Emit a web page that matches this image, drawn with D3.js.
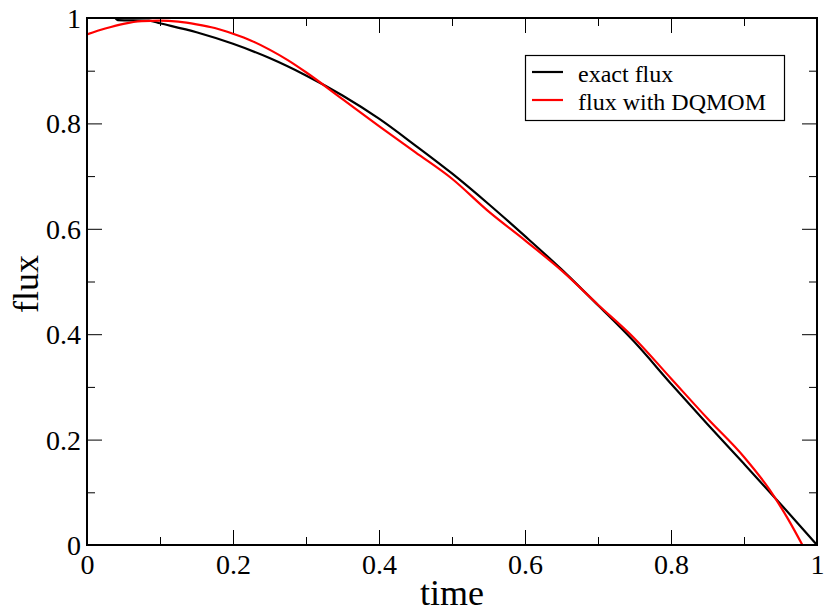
<!DOCTYPE html>
<html>
<head>
<meta charset="utf-8">
<script src="https://cdn.jsdelivr.net/npm/d3@7"></script>
<style>
body { margin: 0; background: #fff; }
text { font-family: "Liberation Serif", "DejaVu Serif", serif; fill: #000; }
</style>
</head>
<body>
<script>
let width = 824;
let height = 612;

// values
const exactT = [0, 0.038, 0.042, 0.085, 0.1, 0.15, 0.2, 0.25, 0.3, 0.35, 0.4, 0.45, 0.5,
	0.55, 0.6, 0.65, 0.7, 0.75, 0.8, 0.85, 0.9, 0.95, 1.0];
const exactFlux = [1.0, 1.0, 0.996, 0.995, 0.990, 0.973, 0.951, 0.924, 0.891, 0.853, 0.809,
	0.758, 0.705, 0.647, 0.586, 0.523, 0.455, 0.385, 0.306, 0.229, 0.154, 0.078, 0.0];

const dqmomT = [0, 0.025, 0.05, 0.075, 0.1, 0.125, 0.15, 0.175, 0.2, 0.225, 0.25, 0.275, 0.3,
	0.35, 0.4, 0.45, 0.5, 0.55, 0.6, 0.65, 0.7, 0.75, 0.8, 0.85, 0.9, 0.935, 0.96, 0.98];
const dqmomFlux = [0.969, 0.980, 0.989, 0.994, 0.995, 0.993, 0.988, 0.981, 0.970, 0.957,
	0.940, 0.920, 0.897, 0.846, 0.795, 0.745, 0.695, 0.633, 0.578, 0.521, 0.456, 0.392,
	0.316, 0.240, 0.167, 0.105, 0.050, 0.0];

const xMajor = [0, 0.2, 0.4, 0.6, 0.8, 1];
const xMinor = [0.1, 0.3, 0.5, 0.7, 0.9];
const yMajor = [0, 0.2, 0.4, 0.6, 0.8, 1];
const yMinor = [0.1, 0.3, 0.5, 0.7, 0.9];

const seriesNames = ['exact flux', 'flux with DQMOM'];
const seriesColors = ['#000000', '#ff0000'];

let padL = 87, padR = 817, padT = 18, padB = 545;

let x = d3.scaleLinear().domain([0, 1]).range([padL, padR]);
let y = d3.scaleLinear().domain([0, 1]).range([padB, padT]);

let svg = d3.select('body').append('svg')
	.attr('width', width)
	.attr('height', height);

svg.append('rect')
	.attr('width', width)
	.attr('height', height)
	.style('fill', '#fff');

// curves
let line = d3.line()
	.x(d => x(d[0]))
	.y(d => y(d[1]))
	.curve(d3.curveMonotoneX);

let series = [
	d3.zip(exactT, exactFlux),
	d3.zip(dqmomT, dqmomFlux)
];

series.forEach(function (pts, i) {
	svg.append('path')
		.datum(pts)
		.attr('d', line)
		.style('fill', 'none')
		.style('stroke', seriesColors[i])
		.style('stroke-width', 2.2);
});

// axes (ticks point inwards, on all four sides)
function tickAxis(axisFn, scale, vals, size, pos, labels) {
	let ax = axisFn(scale).tickValues(vals).tickSize(-size).tickSizeOuter(0);
	if (!labels) ax.tickFormat('');
	else ax.tickFormat(d3.format('~g')).tickPadding(0);
	let g = svg.append('g').attr('transform', pos).call(ax)
		.attr('font-family', 'Liberation Serif')
		.attr('font-size', 28);
	g.select('.domain').remove();
	g.selectAll('.tick line').style('stroke', '#000').style('stroke-width', 1);
	return g;
}

let gxb = tickAxis(d3.axisBottom, x, xMajor, 15, 'translate(0,' + padB + ')', true);
tickAxis(d3.axisBottom, x, xMinor, 8, 'translate(0,' + padB + ')', false);
tickAxis(d3.axisTop, x, xMajor, 15, 'translate(0,' + padT + ')', false);
tickAxis(d3.axisTop, x, xMinor, 8, 'translate(0,' + padT + ')', false);
let gyl = tickAxis(d3.axisLeft, y, yMajor, 15, 'translate(' + padL + ',0)', true);
tickAxis(d3.axisLeft, y, yMinor, 8, 'translate(' + padL + ',0)', false);
tickAxis(d3.axisRight, y, yMajor, 15, 'translate(' + padR + ',0)', false);
tickAxis(d3.axisRight, y, yMinor, 8, 'translate(' + padR + ',0)', false);

gxb.selectAll('.tick text')
	.attr('y', 29)
	.attr('dy', 0);

gyl.selectAll('.tick text')
	.attr('x', -6)
	.attr('dy', '0.34em');

// frame
svg.append('rect')
	.attr('x', padL)
	.attr('y', padT)
	.attr('width', padR - padL)
	.attr('height', padB - padT)
	.style('fill', 'none')
	.style('stroke', '#000')
	.style('stroke-width', 2);

// axis titles
svg.append('text')
	.attr('x', (padL + padR) / 2)
	.attr('y', 605)
	.attr('text-anchor', 'middle')
	.style('font-size', '36px')
	.text('time');

svg.append('text')
	.attr('transform', 'translate(38,' + 284 + ') rotate(-90)')
	.attr('text-anchor', 'middle')
	.style('font-size', '36px')
	.text('flux');

// legend
svg.append('rect')
	.attr('x', 525.5)
	.attr('y', 55.5)
	.attr('width', 259)
	.attr('height', 65)
	.style('fill', '#fff')
	.style('stroke', '#000')
	.style('stroke-width', 1.2);

seriesNames.forEach(function (name, i) {
	let ly = 72 + i * 28;
	svg.append('line')
		.attr('x1', 532).attr('x2', 563)
		.attr('y1', ly).attr('y2', ly)
		.style('stroke', seriesColors[i])
		.style('stroke-width', 2.2);
	svg.append('text')
		.attr('x', 578)
		.attr('y', ly + 10)
		.style('font-size', '24px')
		.text(name);
});
</script>
</body>
</html>
